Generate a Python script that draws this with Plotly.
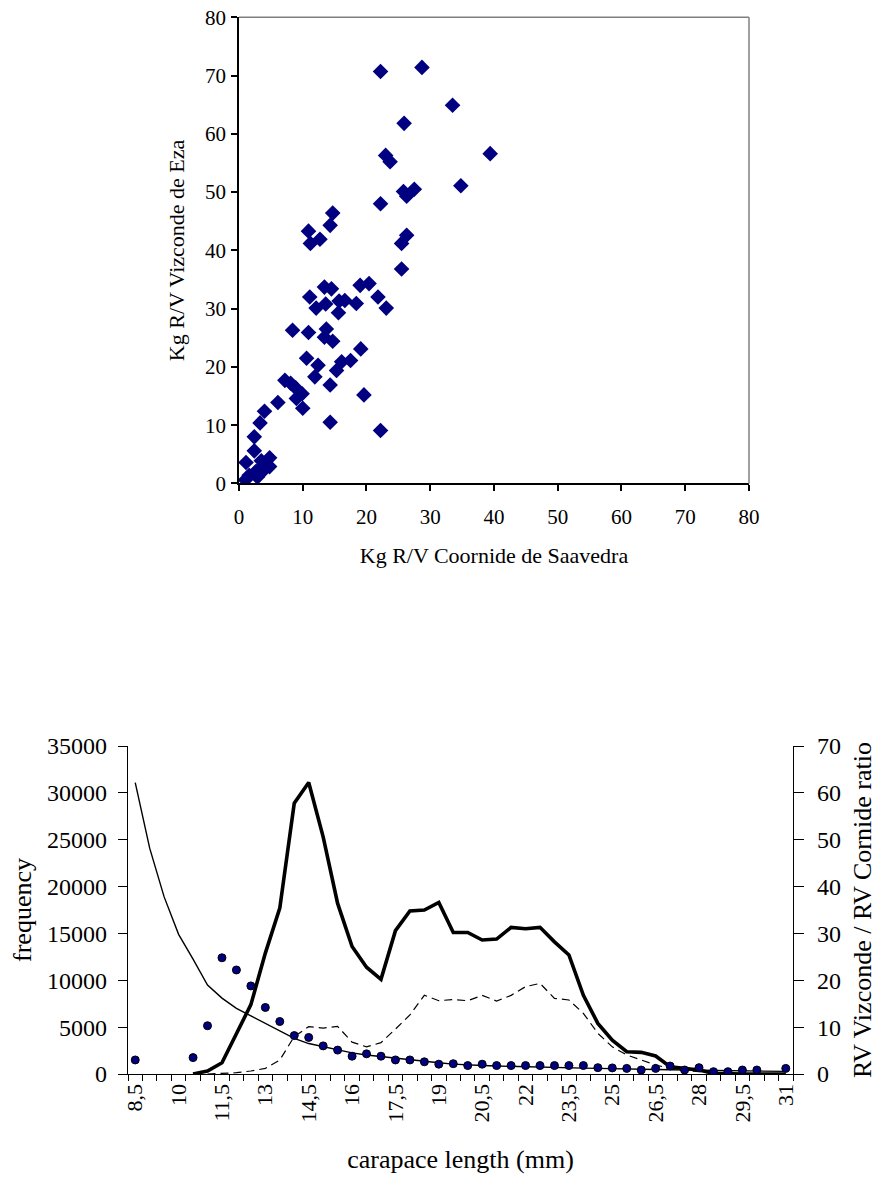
import plotly.graph_objects as go

# ---------------- Top scatter data ----------------
cornide_kg = [22.2, 28.7, 33.5, 25.9, 23.0, 23.7, 39.4, 34.8, 25.8, 26.3, 27.5, 22.2,
              14.7, 14.3, 10.9, 11.2, 12.7, 26.3, 25.5, 25.5, 19.0, 20.4, 13.4, 14.5,
              11.1, 12.1, 13.6, 15.7, 16.6, 15.6, 18.4, 21.8, 23.1, 8.4, 10.9, 13.7,
              13.4, 14.7, 19.1, 10.6, 12.4, 16.1, 17.5, 15.3, 11.9, 7.2, 8.1, 8.9,
              14.3, 9.9, 9.0, 10.0, 6.1, 19.6, 4.0, 3.3, 14.3, 22.2, 2.4, 2.4,
              1.1, 4.8, 3.5, 4.8, 3.0, 2.6, 1.6, 1.0, 2.9, 3.9]
vizconde_kg = [70.7, 71.4, 64.9, 61.8, 56.3, 55.2, 56.6, 51.1, 50.1, 49.3, 50.5, 48.0,
               46.4, 44.3, 43.3, 41.2, 41.9, 42.6, 41.2, 36.8, 34.0, 34.3, 33.7, 33.4,
               32.0, 30.1, 30.8, 31.3, 31.4, 29.3, 30.9, 32.0, 30.1, 26.3, 25.9, 26.5,
               25.1, 24.4, 23.1, 21.5, 20.3, 20.9, 21.1, 19.4, 18.3, 17.7, 17.2, 16.4,
               16.9, 15.4, 14.6, 12.9, 13.9, 15.2, 12.4, 10.4, 10.5, 9.1, 8.0, 5.6,
               3.6, 4.4, 3.9, 2.9, 2.3, 2.0, 1.4, 0.6, 1.1, 2.3]
top_ticks = [0, 10, 20, 30, 40, 50, 60, 70, 80]

# ---------------- Bottom chart data ----------------
length_mm = [8.5 + 0.5 * i for i in range(46)]
freq_vizconde = [None, None, None, None, 0, 320, 1200, 4300, 7400, 12900, 17700, 28900,
                 31100, 25300, 18200, 13600, 11400, 10100, 15300, 17400, 17500, 18300,
                 15100, 15100, 14300, 14400, 15650, 15500, 15650, 14100, 12700, 8400,
                 5400, 3600, 2380, 2310, 1920, 780, 600, 430, 70, 0, 0, 0, 0, 0]
freq_cornide = [None, None, None, None, None, 0, 50, 140, 320, 600, 1490, 4000,
                5050, 4900, 5080, 3400, 2900, 3350, 4800, 6300, 8400, 7820,
                7950, 7820, 8390, 7790, 8390, 9320, 9670, 8070, 7900, 6470,
                4340, 2900, 2030, 1490, 960, 600, 360, 250, 50, 0, 0, 0, 0, 0]
ratio_obs = [3.0, None, None, None, 3.5, 10.3, 24.8, 22.2, 18.8, 14.2, 11.2, 8.2,
             7.8, 6.0, 5.1, 3.8, 4.3, 3.8, 3.0, 3.0, 2.6, 2.1, 2.2, 1.8, 2.1, 1.8,
             1.8, 1.8, 1.8, 1.8, 1.8, 1.8, 1.35, 1.3, 1.2, 0.85, 1.2, 1.7, 0.85,
             1.35, 0.5, 0.5, 0.85, 0.85, None, 1.2]
ratio_fit = [62.2, 48.2, 37.8, 29.8, 24.5, 19.0, 16.2, 14.0, 12.4, 10.8, 9.2, 7.6,
             6.5, 5.8, 5.1, 4.5, 4.05, 3.7, 3.3, 3.0, 2.7, 2.4, 2.1, 1.9, 1.8, 1.7,
             1.6, 1.5, 1.45, 1.4, 1.3, 1.25, 1.2, 1.1, 1.05, 1.0, 0.95, 0.9, 0.85,
             0.8, 0.75, 0.7, 0.65, 0.6, 0.58, 0.55]
x_tick_vals = [8.5 + 1.5 * k for k in range(16)]
x_tick_text = [("%g" % v).replace(".", ",") for v in x_tick_vals]
freq_ticks = [0, 5000, 10000, 15000, 20000, 25000, 30000, 35000]
freq_tick_text = [str(v) for v in freq_ticks]
ratio_ticks = [0, 10, 20, 30, 40, 50, 60, 70]

FONT = "Liberation Serif"
NAVY = "#000080"

fig = go.Figure()

fig.add_trace(go.Scatter(x=cornide_kg, y=vizconde_kg, mode="markers",
                         marker=dict(symbol="diamond", size=12, color=NAVY),
                         xaxis="x", yaxis="y", showlegend=False))

fig.add_trace(go.Scatter(x=length_mm, y=freq_vizconde, mode="lines",
                         line=dict(color="black", width=3.6),
                         xaxis="x2", yaxis="y2", showlegend=False))
fig.add_trace(go.Scatter(x=length_mm, y=freq_cornide, mode="lines",
                         line=dict(color="black", width=1.2, dash="8px,5px"),
                         xaxis="x2", yaxis="y2", showlegend=False))
fig.add_trace(go.Scatter(x=length_mm, y=ratio_fit, mode="lines",
                         line=dict(color="black", width=1.4),
                         xaxis="x2", yaxis="y3", showlegend=False))
fig.add_trace(go.Scatter(x=length_mm, y=ratio_obs, mode="markers",
                         marker=dict(symbol="circle", size=8, color=NAVY,
                                     line=dict(color="black", width=1)),
                         xaxis="x2", yaxis="y3", showlegend=False))

tick_font_top = dict(family=FONT, size=21, color="black")
title_font_top = dict(family=FONT, size=22, color="black")
tick_font_bot = dict(family=FONT, size=24, color="black")
title_font_bot = dict(family=FONT, size=26, color="black")

W, H = 880, 1178

fig.update_layout(
    width=W, height=H,
    margin=dict(l=0, r=0, t=0, b=0, autoexpand=False),
    paper_bgcolor="white", plot_bgcolor="white",
    font=dict(family=FONT, color="black"),
    xaxis=dict(domain=[0.27159, 0.85114], anchor="y", range=[0, 80], automargin=False,
               tickvals=top_ticks, showgrid=False, zeroline=False,
               showline=True, linecolor="black", linewidth=1.5,
               ticks="outside", ticklen=6, tickcolor="black", tickwidth=1.5,
               tickfont=tick_font_top, ticklabelstandoff=8, ticklabeloverflow="allow",
               title=dict(text="Kg R/V Coornide de Saavedra", font=title_font_top, standoff=19)),
    yaxis=dict(domain=[0.58956, 0.98531], anchor="x", range=[0, 80], automargin=False,
               tickvals=top_ticks, showgrid=False, zeroline=False,
               showline=True, linecolor="black", linewidth=1.5,
               ticks="outside", ticklen=6, tickcolor="black", tickwidth=1.5,
               tickfont=tick_font_top, ticklabelstandoff=1, ticklabeloverflow="allow",
               title=dict(text="Kg R/V Vizconde de Eza", font=title_font_top, standoff=14)),
    xaxis2=dict(domain=[0.145455, 0.901136], anchor="y2", range=[8.25, 31.25], automargin=False,
                tickvals=x_tick_vals, ticktext=x_tick_text, tickangle=-90,
                showgrid=False, zeroline=False, showline=True, linecolor="black",
                linewidth=1.2, ticks="", tickfont=dict(family=FONT, size=22, color="black"),
                ticklabeloverflow="allow",
                minor=dict(tickmode="linear", tick0=8.25, dtick=0.5, ticks="outside",
                           ticklen=6, tickcolor="black", tickwidth=1.2, showgrid=False),
                title=dict(text="carapace length (mm)", font=title_font_bot, standoff=28)),
    yaxis2=dict(domain=[0.088285, 0.366723], anchor="x2", range=[0, 35000], automargin=False,
                tickvals=freq_ticks, ticktext=freq_tick_text, showgrid=False, zeroline=False,
                showline=True, linecolor="black", linewidth=1.2,
                ticks="outside", ticklen=9, tickcolor="black", tickwidth=1.2,
                tickfont=tick_font_bot, ticklabelstandoff=6, ticklabeloverflow="allow",
                title=dict(text="frequency", font=title_font_bot, standoff=8)),
    yaxis3=dict(domain=[0.088285, 0.366723], anchor="x2", overlaying="y2", side="right",
                range=[0, 70], tickvals=ratio_ticks, showgrid=False, zeroline=False,
                automargin=False,
                showline=True, linecolor="black", linewidth=1.2,
                ticks="outside", ticklen=10, tickcolor="black", tickwidth=1.2,
                tickfont=tick_font_bot, ticklabelstandoff=8, ticklabeloverflow="allow",
                title=dict(text="RV Vizconde / RV Cornide ratio", font=title_font_bot, standoff=12)),
    yaxis4=dict(domain=[0.088285, 0.366723], anchor="x2", overlaying="y2", side="right",
                range=[0, 70], tickvals=ratio_ticks, showgrid=False, zeroline=False,
                automargin=False, showline=False, showticklabels=False,
                ticks="inside", ticklen=10, tickcolor="black", tickwidth=1.2),
    shapes=[
        dict(type="line", xref="x domain", yref="y domain", x0=0, x1=1, y0=1, y1=1,
             line=dict(color="#808080", width=1.5)),
        dict(type="line", xref="x domain", yref="y domain", x0=1, x1=1, y0=0, y1=1,
             line=dict(color="#808080", width=1.5)),
    ],
)

fig.write_html("out.html", config={"displayModeBar": False},
               post_script="document.body.style.margin='0';")
